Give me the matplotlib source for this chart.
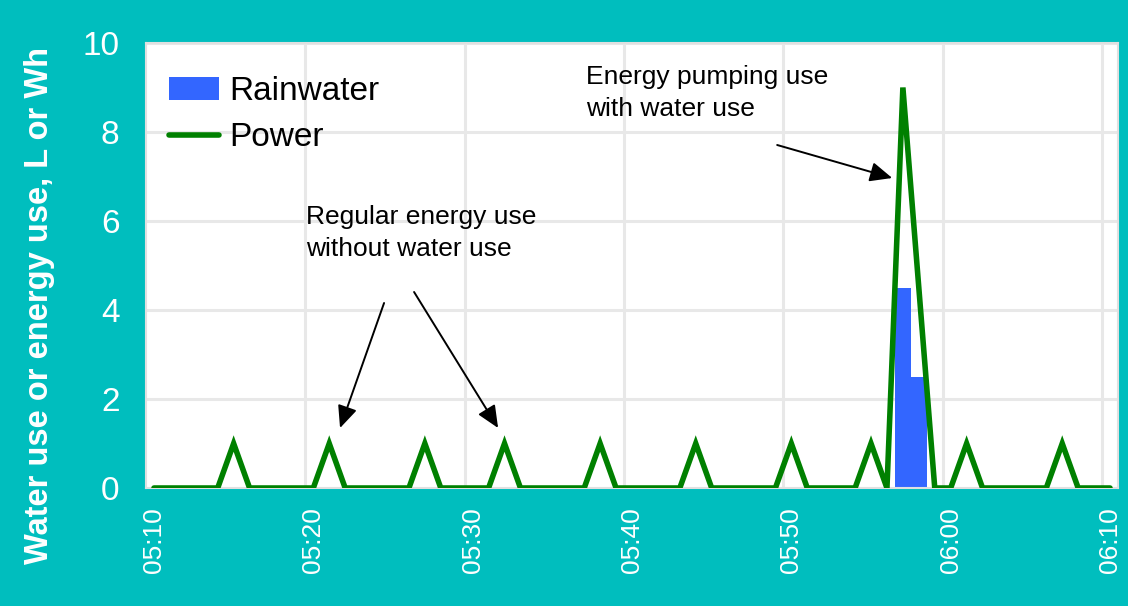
import matplotlib
matplotlib.use("Agg")
import matplotlib.pyplot as plt
import numpy as np

# ---- data (one value per minute, 05:10 .. 06:10) ----
power = [0, 0, 0, 0, 0, 1, 0, 0, 0, 0,      # 05:10-05:19
         0, 1, 0, 0, 0, 0, 0, 1, 0, 0,      # 05:20-05:29
         0, 0, 1, 0, 0, 0, 0, 0, 1, 0,      # 05:30-05:39
         0, 0, 0, 0, 1, 0, 0, 0, 0, 0,      # 05:40-05:49
         1, 0, 0, 0, 0, 1, 0, 9, 4.5, 0,    # 05:50-05:59
         0, 1, 0, 0, 0, 0, 0, 1, 0, 0,      # 06:00-06:09
         0]                                 # 06:10
rainwater = [0] * 47 + [4.5, 2.5] + [0] * 12
tick_labels = ["05:10", "05:20", "05:30", "05:40", "05:50", "06:00", "06:10"]
y_ticks = [0, 2, 4, 6, 8, 10]

TEAL = "#00BEBE"
FONT = ["Liberation Sans", "DejaVu Sans"]
plt.rcParams["font.family"] = FONT

fig = plt.figure(figsize=(11.28, 6.06), dpi=100, facecolor=TEAL)
ax = fig.add_axes([146 / 1128, 1 - 488 / 606, (1118 - 146) / 1128, (488 - 43) / 606])
ax.set_facecolor("white")

x = np.arange(len(power))
bars = ax.bar(x, rainwater, width=1.0, color="#3366FF", label="Rainwater", zorder=2)
line, = ax.plot(x, power, color="#008000", lw=4, label="Power", zorder=3,
                solid_joinstyle="miter", solid_capstyle="round")

ax.set_xlim(-0.5, len(power) - 0.5)
ax.set_ylim(0, 10)

ax.set_yticks(y_ticks)
ax.set_xticks(np.arange(0, len(power), 10))
ax.set_xticklabels(tick_labels, rotation=90)
ax.grid(False)
for yv in y_ticks[1:]:
    ax.axhline(yv, color="#E8E8E8", lw=2.2, zorder=1)
for xv in np.arange(9.5, len(power) - 1, 10):
    ax.axvline(xv, color="#E8E8E8", lw=2.2, zorder=1)

ax.tick_params(axis="both", which="both", length=0)
ax.tick_params(axis="y", labelsize=24, labelcolor="white", pad=19)
ax.tick_params(axis="x", labelsize=19, labelcolor="white", pad=14)

for s in ax.spines.values():
    s.set_color("#E0E0E0")
    s.set_linewidth(1.5)

ax.set_ylabel("Water use or energy use, L or Wh", fontsize=23.5, fontweight="bold",
              color="white")
ax.yaxis.set_label_coords(-(146 - 55) / 972, (488 - 305) / 445)

leg = ax.legend([bars, line], ["Rainwater", "Power"], loc="upper left",
                bbox_to_anchor=(0.01, 0.955), frameon=False,
                fontsize=24, handlelength=1.5, handletextpad=0.3, labelspacing=0.45,
                borderaxespad=0.0)

ann_kw = dict(fontsize=19, color="black", va="top", ha="left", linespacing=1.42)
ax.text(27.1, (488 - 65) / 44.5, "Energy pumping use\nwith water use", **ann_kw)
ax.text(9.55, (488 - 205) / 44.5, "Regular energy use\nwithout water use", **ann_kw)


def px2data(px, py):
    return ((px - 146) / 15.93 - 0.5, (488 - py) / 44.5)


arrow_style = dict(arrowstyle="-|>,head_length=0.9,head_width=0.4", color="black",
                   lw=1.4, shrinkA=0, shrinkB=0, mutation_scale=15)
for tail, tip in [((777, 145), (892, 178)),
                  ((384, 303), (340, 428)),
                  ((414, 292), (498, 428))]:
    ax.annotate("", xy=px2data(*tip), xytext=px2data(*tail),
                arrowprops=arrow_style, zorder=4)

fig.savefig("out.png", dpi=100, facecolor=TEAL)
